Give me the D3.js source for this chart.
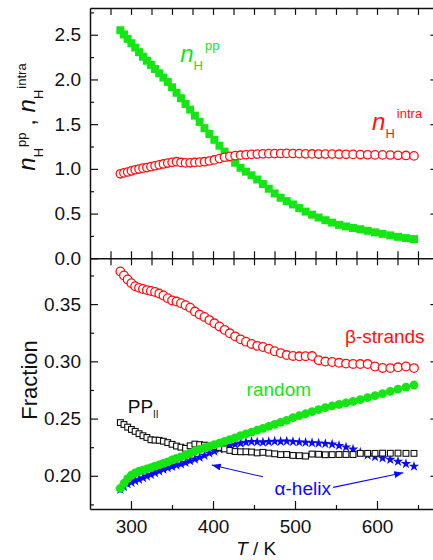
<!DOCTYPE html>
<html>
<head>
<meta charset="utf-8">
<script src="https://cdn.jsdelivr.net/npm/d3@7"></script>
<style>
  body { margin: 0; background: #fff; }
  svg { display: block; }
  text { font-family: "Liberation Sans", Arial, sans-serif; }
</style>
</head>
<body>
<svg id="chart" width="433" height="560"></svg>
<script>
// Replica temperatures (K)
const temps = [287.0, 291.4, 295.9, 300.5, 305.1, 309.8, 314.6, 319.4, 324.3, 329.3,
  334.4, 339.5, 344.8, 350.1, 355.5, 360.9, 366.5, 372.1, 377.9, 383.7,
  389.6, 395.6, 401.7, 407.9, 414.1, 420.5, 427.0, 433.6, 440.2, 447.0,
  453.9, 460.9, 468.0, 475.2, 482.5, 489.9, 497.5, 505.2, 512.9, 520.8,
  528.8, 537.0, 545.3, 553.7, 562.2, 570.8, 579.6, 588.6, 597.6, 606.8,
  616.2, 625.6, 635.3, 645.1];

// Upper panel: hydrogen bonds per peptide
const nHpp = [2.55, 2.503, 2.454, 2.405, 2.356, 2.305, 2.254, 2.209, 2.163, 2.117,
  2.069, 2.021, 1.972, 1.912, 1.851, 1.790, 1.726, 1.663, 1.595, 1.525,
  1.455, 1.390, 1.325, 1.259, 1.193, 1.126, 1.069, 1.012, 0.969, 0.928,
  0.881, 0.830, 0.778, 0.725, 0.677, 0.640, 0.602, 0.561, 0.522, 0.488,
  0.456, 0.426, 0.399, 0.374, 0.356, 0.339, 0.325, 0.308, 0.290, 0.273,
  0.256, 0.240, 0.226, 0.215];
const nHintra = [0.945, 0.955, 0.965, 0.978, 0.990, 0.998, 1.008, 1.015, 1.025, 1.035,
  1.045, 1.055, 1.065, 1.073, 1.080, 1.072, 1.067, 1.068, 1.072, 1.075,
  1.080, 1.088, 1.100, 1.115, 1.130, 1.140, 1.148, 1.153, 1.158, 1.162,
  1.165, 1.168, 1.170, 1.171, 1.172, 1.173, 1.172, 1.170, 1.168, 1.167,
  1.166, 1.165, 1.165, 1.164, 1.163, 1.162, 1.160, 1.158, 1.156, 1.156,
  1.155, 1.152, 1.150, 1.145];

// Lower panel: secondary-structure fractions
const betaStrands = [0.3785, 0.3750, 0.3715, 0.3682, 0.3656, 0.3642, 0.3632, 0.3622, 0.3615, 0.3606,
  0.3592, 0.3575, 0.3552, 0.3532, 0.3522, 0.3508, 0.3490, 0.3468, 0.3435, 0.3408,
  0.3388, 0.3360, 0.3332, 0.3305, 0.3275, 0.3245, 0.3218, 0.3192, 0.3172, 0.3152,
  0.3135, 0.3125, 0.3110, 0.3088, 0.3072, 0.3055, 0.3047, 0.3044, 0.3045, 0.3046,
  0.3010, 0.2998, 0.2994, 0.2987, 0.2980, 0.2977, 0.2976, 0.2976, 0.2955, 0.2942,
  0.2941, 0.2948, 0.2955, 0.2941];
const randomCoil = [0.1890, 0.1935, 0.1975, 0.2005, 0.2025, 0.2040, 0.2050, 0.2060, 0.2072, 0.2085,
  0.2095, 0.2108, 0.2122, 0.2138, 0.2152, 0.2165, 0.2180, 0.2198, 0.2215, 0.2230,
  0.2245, 0.2258, 0.2272, 0.2286, 0.2300, 0.2316, 0.2332, 0.2350, 0.2367, 0.2382,
  0.2398, 0.2415, 0.2432, 0.2450, 0.2467, 0.2485, 0.2508, 0.2525, 0.2542, 0.2560,
  0.2578, 0.2595, 0.2610, 0.2623, 0.2637, 0.2650, 0.2665, 0.2683, 0.2700, 0.2718,
  0.2738, 0.2757, 0.2775, 0.2793];
const ppII = [0.2465, 0.2448, 0.2425, 0.2405, 0.2388, 0.2368, 0.2350, 0.2335, 0.2315, 0.2312,
  0.2310, 0.2302, 0.2290, 0.2275, 0.2260, 0.2250, 0.2240, 0.2262, 0.2277, 0.2272,
  0.2268, 0.2262, 0.2255, 0.2248, 0.2235, 0.2222, 0.2212, 0.2210, 0.2210, 0.2208,
  0.2200, 0.2205, 0.2198, 0.2192, 0.2185, 0.2186, 0.2178, 0.2176, 0.2172, 0.2190,
  0.2188, 0.2184, 0.2185, 0.2186, 0.2186, 0.2186, 0.2196, 0.2196, 0.2196, 0.2198,
  0.2197, 0.2198, 0.2196, 0.2196];
const alphaHelix = [0.1880, 0.1905, 0.1928, 0.1942, 0.1955, 0.1968, 0.1982, 0.1996, 0.2010, 0.2025,
  0.2040, 0.2055, 0.2068, 0.2080, 0.2092, 0.2102, 0.2115, 0.2130, 0.2145, 0.2160,
  0.2178, 0.2198, 0.2214, 0.2232, 0.2248, 0.2262, 0.2274, 0.2284, 0.2292, 0.2298,
  0.2296, 0.2292, 0.2297, 0.2301, 0.2299, 0.2302, 0.2298, 0.2294, 0.2291, 0.2288,
  0.2285, 0.2280, 0.2275, 0.2264, 0.2250, 0.2232, 0.2205, 0.2180, 0.2165, 0.2155,
  0.2142, 0.2125, 0.2105, 0.2082];

// Tick values
const xMajorTicks = [300, 400, 500, 600];
const xMinorTicks = [350, 450, 550, 650];
const xEdgeTicks = [275, 300, 325, 350, 375, 400, 425, 450, 475, 500, 525, 550, 575, 600, 625, 650];
const topMajorTicks = [0, 0.5, 1.0, 1.5, 2.0, 2.5];
const topMinorTicks = [0.25, 0.75, 1.25, 1.75, 2.25, 2.75];
const botMajorTicks = [0.20, 0.25, 0.30, 0.35];
const botMinorTicks = [0.175, 0.225, 0.275, 0.325, 0.375];

const GREEN = "#14e614", RED = "#ff1010", BLUE = "#0a0aff", BLACK = "#111";

const svg = d3.select("#chart");

const x = d3.scaleLinear().domain([250, 670]).range([90, 434.4]);
const yTop = d3.scaleLinear().domain([0, 2.8]).range([258.3, 7.9]);
const yBot = d3.scaleLinear().domain([0.171, 0.39]).range([509, 258.3]);

const TOP = yTop.range()[1], MID = yTop.range()[0], BOT = yBot.range()[0];
const LEFT = x.range()[0], RIGHT = x.range()[1] + 1;

function drawAxis(gen, translate, values, size, fmt, withDomain) {
  const a = gen.tickValues(values).tickSize(size).tickSizeOuter(0).tickPadding(fmt ? 9 : 3)
    .tickFormat(fmt ? d3.format(fmt) : "");
  const g = svg.append("g").attr("transform", translate).call(a);
  g.selectAll(".tick line").attr("stroke", BLACK).attr("stroke-width", 1.2);
  g.select(".domain").attr("stroke", withDomain ? BLACK : "none").attr("stroke-width", 1.5);
  g.selectAll(".tick text").attr("font-size", 19).attr("fill", BLACK)
    .attr("font-family", '"Liberation Sans", Arial, sans-serif');
  return g;
}

// ----- Upper panel axes -----
drawAxis(d3.axisLeft(yTop), `translate(${LEFT},0)`, topMajorTicks, -8, ".1f", true);
drawAxis(d3.axisLeft(yTop), `translate(${LEFT},0)`, topMinorTicks, -4, null, false);
drawAxis(d3.axisRight(yTop), `translate(${RIGHT},0)`, topMajorTicks.slice(1), -5, null, false);
drawAxis(d3.axisTop(x), `translate(0,${TOP})`, xEdgeTicks, -7, null, true);
drawAxis(d3.axisBottom(x), `translate(0,${MID})`, xEdgeTicks, -7, null, true);

// ----- Lower panel axes -----
drawAxis(d3.axisLeft(yBot), `translate(${LEFT},0)`, botMajorTicks, -8, ".2f", true);
drawAxis(d3.axisLeft(yBot), `translate(${LEFT},0)`, botMinorTicks, -4, null, false);
drawAxis(d3.axisRight(yBot), `translate(${RIGHT},0)`, botMajorTicks, -5, null, false);
drawAxis(d3.axisTop(x), `translate(0,${MID})`, xEdgeTicks, -7, null, false);
const bottomAx = drawAxis(d3.axisBottom(x), `translate(0,${BOT})`, xMajorTicks, -8, "d", true);
bottomAx.selectAll(".tick text").attr("dy", "0.71em").attr("y", 11);
drawAxis(d3.axisBottom(x), `translate(0,${BOT})`, xMinorTicks, -4, null, false);

// ----- Upper panel markers -----
const upper = svg.append("g");
upper.selectAll("rect.pp").data(temps).join("rect").attr("class", "pp")
  .attr("x", (d) => x(d) - 4).attr("y", (d, i) => yTop(nHpp[i]) - 4)
  .attr("width", 8).attr("height", 8).attr("fill", GREEN);
upper.selectAll("circle.intra").data(temps).join("circle").attr("class", "intra")
  .attr("cx", (d) => x(d)).attr("cy", (d, i) => yTop(nHintra[i])).attr("r", 4.2)
  .attr("fill", "#fff").attr("stroke", RED).attr("stroke-width", 1.3);

// ----- Lower panel markers -----
const lower = svg.append("g");
const star = d3.symbol(d3.symbolStar, 34);
lower.selectAll("path.alpha").data(temps).join("path").attr("class", "alpha")
  .attr("d", star).attr("transform", (d, i) => `translate(${x(d)},${yBot(alphaHelix[i])})`)
  .attr("fill", BLUE);
lower.selectAll("rect.ppii").data(temps).join("rect").attr("class", "ppii")
  .attr("x", (d) => x(d) - 2.9).attr("y", (d, i) => yBot(ppII[i]) - 2.9)
  .attr("width", 5.8).attr("height", 5.8)
  .attr("fill", "#fff").attr("stroke", BLACK).attr("stroke-width", 1.1);
lower.selectAll("circle.rand").data(temps).join("circle").attr("class", "rand")
  .attr("cx", (d) => x(d)).attr("cy", (d, i) => yBot(randomCoil[i])).attr("r", 4.4)
  .attr("fill", GREEN);
lower.selectAll("circle.beta").data(temps).join("circle").attr("class", "beta")
  .attr("cx", (d) => x(d)).attr("cy", (d, i) => yBot(betaStrands[i])).attr("r", 4.3)
  .attr("fill", "#fff").attr("stroke", RED).attr("stroke-width", 1.3);

// ----- Series labels -----
function nLabel(g, tx, ty, sup, color) {
  const t = g.append("text").attr("x", tx).attr("y", ty).attr("fill", color);
  t.append("tspan").attr("font-size", 24).attr("font-style", "italic").text("n");
  t.append("tspan").attr("font-size", 13).attr("dy", 8).text("H");
  t.append("tspan").attr("font-size", 13).attr("dx", 2).attr("dy", -20).text(sup);
  return t;
}
nLabel(svg, x(360), yTop(2.19), "pp", GREEN);
nLabel(svg, x(594), yTop(1.435), "intra", RED);

svg.append("text").attr("x", x(561)).attr("y", yBot(0.3160)).attr("font-size", 19)
  .attr("fill", RED).text("β-strands");
svg.append("text").attr("x", x(441)).attr("y", yBot(0.2700)).attr("font-size", 19)
  .attr("fill", GREEN).text("random");
const pp = svg.append("text").attr("x", x(296)).attr("y", yBot(0.2549)).attr("fill", BLACK);
pp.append("tspan").attr("font-size", 19).text("PP");
pp.append("tspan").attr("font-size", 10).attr("dy", 5).text("II");
svg.append("text").attr("x", x(475)).attr("y", yBot(0.1834)).attr("font-size", 19)
  .attr("fill", BLUE).text("α-helix");

// Arrows from the α-helix label to its markers
const defs = svg.append("defs");
defs.append("marker").attr("id", "head").attr("markerUnits", "userSpaceOnUse")
  .attr("markerWidth", 10).attr("markerHeight", 8).attr("refX", 9).attr("refY", 3.5)
  .attr("orient", "auto")
  .append("path").attr("d", "M0,0 L9,3.5 L0,7 Z").attr("fill", BLUE);
const arrows = [
  { from: [461, 0.1991], to: [398.5, 0.2094] },
  { from: [546.5, 0.1899], to: [632, 0.2026] }
];
svg.selectAll("line.arrow").data(arrows).join("line").attr("class", "arrow")
  .attr("x1", (d) => x(d.from[0])).attr("y1", (d) => yBot(d.from[1]))
  .attr("x2", (d) => x(d.to[0])).attr("y2", (d) => yBot(d.to[1]))
  .attr("stroke", BLUE).attr("stroke-width", 1.1).attr("marker-end", "url(#head)");

// ----- Axis titles -----
const yt = svg.append("text").attr("transform", "translate(35,117) rotate(-90)")
  .attr("text-anchor", "middle").attr("fill", BLACK);
yt.append("tspan").attr("font-size", 24).attr("font-style", "italic").text("n");
yt.append("tspan").attr("font-size", 13).attr("dy", 8).text("H");
yt.append("tspan").attr("font-size", 13).attr("dx", 1).attr("dy", -17).text("pp");
yt.append("tspan").attr("font-size", 24).attr("dy", 9).text(" , ");
yt.append("tspan").attr("font-size", 24).attr("font-style", "italic").text("n");
yt.append("tspan").attr("font-size", 13).attr("dy", 8).text("H");
yt.append("tspan").attr("font-size", 13).attr("dx", 1).attr("dy", -17).text("intra");

svg.append("text").attr("transform", "translate(37,380) rotate(-90)")
  .attr("text-anchor", "middle").attr("font-size", 22).attr("fill", BLACK).text("Fraction");

const xt = svg.append("text").attr("x", (LEFT + x(670)) / 2 - 6).attr("y", 555)
  .attr("text-anchor", "middle").attr("font-size", 19).attr("fill", BLACK);
xt.append("tspan").attr("font-style", "italic").text("T");
xt.append("tspan").text(" / K");
</script>
</body>
</html>
